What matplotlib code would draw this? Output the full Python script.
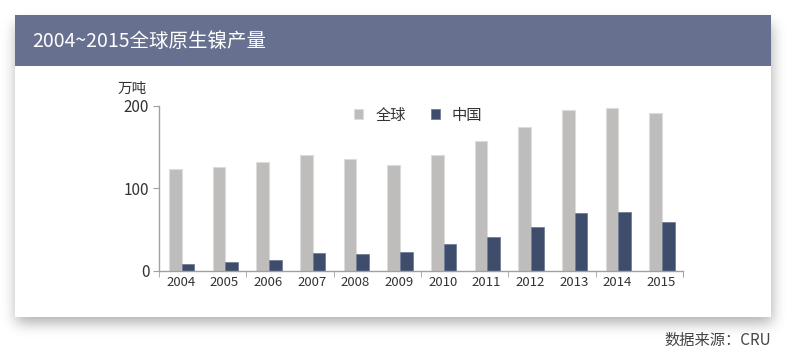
import matplotlib.pyplot as plt
import numpy as np
from matplotlib.patches import Rectangle

plt.rcParams['font.family'] = ['Noto Sans CJK SC', 'DejaVu Sans']

years = ["2004", "2005", "2006", "2007", "2008", "2009",
         "2010", "2011", "2012", "2013", "2014", "2015"]
world = [124, 126, 132, 141, 136, 128, 141, 157, 174, 195, 197, 191]
china = [8, 10, 13, 21, 20, 23, 32, 41, 53, 70, 71, 59]

W, H = 794, 354
fig = plt.figure(figsize=(W / 100, H / 100), dpi=100)

# background layer in pixel coords: card, shadow, header
bg = fig.add_axes([0, 0, 1, 1])
bg.set_xlim(0, W)
bg.set_ylim(H, 0)
bg.axis("off")

# blurred drop shadow below the card
card = (15, 15, 756, 302)
mask = np.zeros((H, W))
mask[15 + 9:15 + 302 + 6, 15 + 1:15 + 756 + 1] = 1.0
k = np.exp(-0.5 * (np.arange(-20, 21) / 7.0) ** 2)
k /= k.sum()
mask = np.apply_along_axis(lambda r: np.convolve(r, k, mode="same"), 1, mask)
mask = np.apply_along_axis(lambda c: np.convolve(c, k, mode="same"), 0, mask)
shadow = np.zeros((H, W, 4))
shadow[..., 3] = mask * 0.32
bg.imshow(shadow, extent=(0, W, H, 0), zorder=1, interpolation="bilinear")
bg.set_xlim(0, W)
bg.set_ylim(H, 0)

bg.add_patch(Rectangle(card[:2], card[2], card[3], facecolor="white", edgecolor="none", zorder=2))
bg.add_patch(Rectangle((15, 15), 756, 51, facecolor="#67718f", edgecolor="none", zorder=3))
bg.text(32, 41, "2004~2015全球原生镍产量", color="white", fontsize=14,
        va="center", ha="left", zorder=4)
bg.text(771, 340, "数据来源：CRU", color="#444444", fontsize=11,
        va="center", ha="right", zorder=4)

# chart
ax = fig.add_axes([159 / W, 1 - 270.7 / H, 524 / W, 164.7 / H])
ax.set_zorder(5)
ax.patch.set_alpha(0)
x = np.arange(len(years))
bw = 0.29
ax.bar(x - bw / 2 + 0.02, world, bw, color="#bebdbb", edgecolor="#dcdcdc",
       linewidth=0.8, label="全球")
ax.bar(x + bw / 2 + 0.02, china, bw, color="#3d4d6b", edgecolor="#6a7690",
       linewidth=0.5, label="中国")

ax.set_xlim(-0.5, len(years) - 0.5)
ax.set_ylim(0, 200)
ax.set_yticks([0, 100, 200])
ax.set_xticks(x)
ax.set_xticklabels(years)
ax.set_xticks(np.arange(-0.5, len(years), 2).tolist() + [len(years) - 0.5], minor=True)
ax.tick_params(axis="x", which="major", length=0, labelsize=9.5, colors="#333333", pad=4)
ax.tick_params(axis="x", which="minor", length=4, color="#a0a0a0", direction="out")
ax.tick_params(axis="y", length=4, color="#a0a0a0", labelsize=11, colors="#333333", pad=3)
for s in ["top", "right"]:
    ax.spines[s].set_visible(False)
for s in ["left", "bottom"]:
    ax.spines[s].set_color("#a0a0a0")
    ax.spines[s].set_linewidth(1)

ax.text(-0.08, 1.06, "万吨", transform=ax.transAxes, fontsize=10.5,
        color="#333333", ha="left", va="bottom")

leg = ax.legend(loc="upper center", bbox_to_anchor=(0.495, 1.08), ncol=2, frameon=False,
                fontsize=11, handlelength=0.6, handleheight=0.6, columnspacing=1.6,
                handletextpad=0.8)
for t in leg.get_texts():
    t.set_color("#333333")

fig.savefig("out.png", dpi=100)
